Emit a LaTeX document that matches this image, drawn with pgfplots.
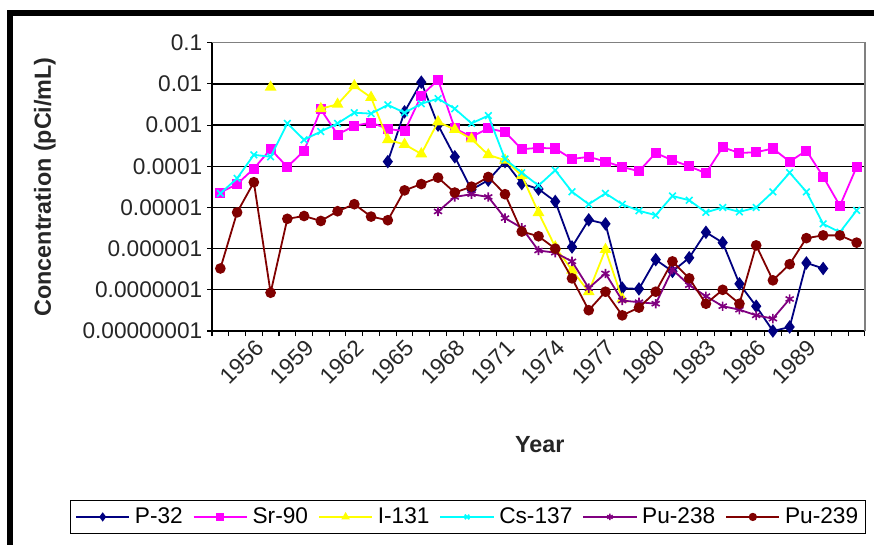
\documentclass[border=0pt]{standalone}
\usepackage{pgfplots}
\pgfplotsset{compat=1.18}
\usepackage{fontspec}
\setmainfont{Liberation Sans}

\definecolor{cP32}{HTML}{000080}
\definecolor{cSr90}{HTML}{FF00FF}
\definecolor{cI131}{HTML}{FFFF00}
\definecolor{cCs137}{HTML}{00FFFF}
\definecolor{cPu238}{HTML}{800080}
\definecolor{cPu239}{HTML}{800000}

\begin{document}
\begin{tikzpicture}[x=0.75pt,y=0.75pt]
\path[use as bounding box] (0,0) rectangle (874,544);
\fill[white] (0,0) rectangle (874,544);
% outer chart frame
\draw[line width=4.5pt] (10,-20) -- (10,531) -- (900,531);

\begin{axis}[
  at={(159pt,159.75pt)}, anchor=south west,
  scale only axis,
  width=489.75pt, height=216.2pt,
  ymode=log,
  xmin=1953.5, xmax=1992.5,
  ymin=1e-8, ymax=0.1,
  axis x line*=bottom, axis y line*=left,
  x axis line style={-, line width=1.1pt},
  y axis line style={-, line width=1.1pt},
  tick align=outside,
  xtick={1956,1959,...,1989},
  xticklabels={1956,1959,1962,1965,1968,1971,1974,1977,1980,1983,1986,1989},
  major x tick style={draw=none},
  minor xtick={1953.5,1954.5,...,1992.5},
  minor tick length=3.75pt,
  major tick length=3.75pt,
  every tick/.style={black, line width=0.8pt},
  ytick={1e-8,1e-7,1e-6,1e-5,1e-4,1e-3,1e-2,1e-1},
  yticklabels={0.00000001,0.0000001,0.000001,0.00001,0.0001,0.001,0.01,0.1},
  yminorticks=false,
  ymajorgrids,
  major grid style={black, line width=1pt},
  tick label style={font=\fontsize{17}{20}\selectfont, text=black!85},
  xticklabel style={rotate=45, anchor=north east, inner sep=1pt},
  /pgf/number format/assume math mode=true,
  xlabel={Year},
  ylabel={Concentration (pCi/mL)},
  label style={font=\bfseries\fontsize{17.5}{20}\selectfont, text=black!85},
  xlabel style={at={(axis description cs:0.502,-0.395)}, anchor=center},
  ylabel style={at={(axis description cs:-0.256,0.5)}, anchor=center},
  clip mode=individual,
  unbounded coords=jump,
  every axis plot/.append style={line width=1.35pt},
  legend columns=6,
  legend style={
    at={(axis description cs:0.392,-0.645)}, anchor=center,
    draw=black, line width=0.7pt,
    font=\fontsize{17}{20}\selectfont,
    inner xsep=3.5pt, inner ysep=3.5pt,
    /tikz/every odd column/.append style={column sep=1.5pt},
    /tikz/every even column/.append style={column sep=5.5pt},
  },
  legend image code/.code={%
    \draw[mark repeat=2, mark phase=2, mark size=2.4pt] plot coordinates {(0pt,0pt) (20pt,0pt) (40pt,0pt)};
  },
]

% P-32
\addplot[color=cP32, mark=diamond*, mark size=4pt, mark options={solid, fill=cP32}] table {
1964 1.3e-4
1965 2.1e-3
1966 1.1e-2
1967 1.0e-3
1968 1.7e-4
1969 2.7e-5
1970 4.6e-5
1971 1.3e-4
1972 3.8e-5
1973 2.8e-5
1974 1.4e-5
1975 1.1e-6
1976 5.0e-6
1977 4.0e-6
1978 1.1e-7
1979 1.05e-7
1980 5.4e-7
1981 2.8e-7
1982 6.0e-7
1983 2.5e-6
1984 1.4e-6
1985 1.4e-7
1986 4.0e-8
1987 1.0e-8
1988 1.25e-8
1989 4.5e-7
1990 3.3e-7
};
\addlegendentry{P-32}

% Sr-90
\addplot[color=cSr90, mark=square*, mark size=3.1pt, mark options={solid, fill=cSr90}] table {
1954 2.3e-5
1955 3.7e-5
1956 8.8e-5
1957 2.6e-4
1958 9.6e-5
1959 2.4e-4
1960 2.4e-3
1961 5.9e-4
1962 9.6e-4
1963 1.15e-3
1964 8.1e-4
1965 7.1e-4
1966 5.2e-3
1967 1.25e-2
1968 8.3e-4
1969 5.2e-4
1970 8.3e-4
1971 6.8e-4
1972 2.6e-4
1973 2.8e-4
1974 2.7e-4
1975 1.5e-4
1976 1.7e-4
1977 1.3e-4
1978 9.6e-5
1979 7.6e-5
1980 2.1e-4
1981 1.4e-4
1982 1.0e-4
1983 6.8e-5
1984 2.9e-4
1985 2.1e-4
1986 2.2e-4
1987 2.7e-4
1988 1.3e-4
1989 2.4e-4
1990 5.6e-5
1991 1.1e-5
1992 9.6e-5
};
\addlegendentry{Sr-90}

% I-131
\addplot[color=cI131, mark=triangle*, mark size=3.8pt, mark options={solid, fill=cI131}] table {
1957 8.3e-3
1958 nan
1960 2.5e-3
1961 3.2e-3
1962 9.0e-3
1963 4.7e-3
1964 4.4e-4
1965 3.4e-4
1966 2.0e-4
1967 1.2e-3
1968 7.8e-4
1969 4.6e-4
1970 1.9e-4
1971 1.4e-4
1972 6.0e-5
1973 7.5e-6
1974 1.1e-6
1975 3.0e-7
1976 9.0e-8
1977 9.5e-7
1978 6.0e-8
};
\addlegendentry{I-131}

% Cs-137
\addplot[color=cCs137, mark=x, mark size=3.5pt, mark options={solid, line width=1.2pt}] table {
1954 2.2e-5
1955 5.1e-5
1956 1.9e-4
1957 1.7e-4
1958 1.1e-3
1959 4.4e-4
1960 7.0e-4
1961 1.1e-3
1962 2.0e-3
1963 1.9e-3
1964 3.1e-3
1965 2.0e-3
1966 3.3e-3
1967 4.4e-3
1968 2.5e-3
1969 1.1e-3
1970 1.7e-3
1971 1.5e-4
1972 7.0e-5
1973 3.4e-5
1974 8.0e-5
1975 2.4e-5
1976 1.2e-5
1977 2.2e-5
1978 1.2e-5
1979 8.3e-6
1980 6.5e-6
1981 1.9e-5
1982 1.5e-5
1983 7.6e-6
1984 1.0e-5
1985 7.8e-6
1986 1.0e-5
1987 2.4e-5
1988 7.0e-5
1989 2.4e-5
1990 4.0e-6
1991 2.5e-6
1992 8.5e-6
};
\addlegendentry{Cs-137}

% Pu-238
\addplot[color=cPu238, mark=asterisk, mark size=3.5pt, mark options={solid, line width=1.2pt}] table {
1967 8.0e-6
1968 1.8e-5
1969 2.1e-5
1970 1.8e-5
1971 5.5e-6
1972 3.2e-6
1973 9.0e-7
1974 8.0e-7
1975 4.9e-7
1976 1.1e-7
1977 2.5e-7
1978 5.5e-8
1979 5.0e-8
1980 4.6e-8
1981 3.1e-7
1982 1.3e-7
1983 7.0e-8
1984 4.0e-8
1985 3.3e-8
1986 2.4e-8
1987 2.0e-8
1988 6.0e-8
};
\addlegendentry{Pu-238}

% Pu-239
\addplot[color=cPu239, mark=*, mark size=3.3pt, mark options={solid, fill=cPu239}] table {
1954 3.3e-7
1955 7.6e-6
1956 4.1e-5
1957 8.5e-8
1958 5.3e-6
1959 6.2e-6
1960 4.7e-6
1961 8.1e-6
1962 1.2e-5
1963 6.0e-6
1964 4.9e-6
1965 2.6e-5
1966 3.7e-5
1967 5.3e-5
1968 2.3e-5
1969 3.2e-5
1970 5.5e-5
1971 2.1e-5
1972 2.6e-6
1973 2.0e-6
1974 1.0e-6
1975 1.9e-7
1976 3.2e-8
1977 9.0e-8
1978 2.4e-8
1979 3.7e-8
1980 9.0e-8
1981 4.9e-7
1982 1.9e-7
1983 4.6e-8
1984 1.0e-7
1985 4.6e-8
1986 1.2e-6
1987 1.7e-7
1988 4.2e-7
1989 1.8e-6
1990 2.1e-6
1991 2.1e-6
1992 1.4e-6
};
\addlegendentry{Pu-239}

% plot-area border on the top and right
\draw[gray, line width=1pt] (rel axis cs:0,1) -- (rel axis cs:1,1) -- (rel axis cs:1,0);
\end{axis}
\end{tikzpicture}
\end{document}
